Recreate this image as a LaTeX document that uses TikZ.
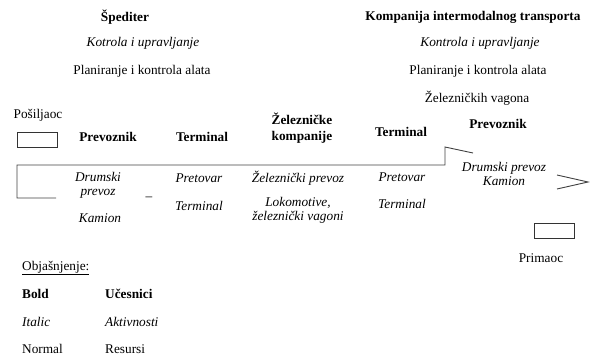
\documentclass[tikz,border=0pt]{standalone}
\usepackage{fontspec}
\setmainfont{Liberation Serif}
\begin{document}
\begin{tikzpicture}[x=1pt,y=-1pt,
  every node/.style={inner sep=0pt,font=\fontsize{13.3}{14}\selectfont},
  bt/.style={font=\fontsize{13.3}{14}\selectfont\bfseries},
  it/.style={font=\fontsize{13.3}{14}\selectfont\itshape},
  ml/.style={align=center},
  ln/.style={draw=black!75,line width=0.9pt},
  bx/.style={draw=black!80,line width=0.9pt}]
\useasboundingbox (0,0) rectangle (590,358);
% top headers
\node[bt] (sped) at (125,17) {Špediter};
\node[it] (sk) at (143,43) {Kotrola i upravljanje};
\node (sp) at (142,71) {Planiranje i kontrola alata};
\node[bt] (kit) at (473,17) {Kompanija intermodalnog transporta};
\node[it] (kk) at (480,43) {Kontrola i upravljanje};
\node (kp) at (478,71) {Planiranje i kontrola alata};
\node (kz) at (477,98) {Železničkih vagona};
% participants
\node (pos) at (38,115) {Pošiljaoc};
\node[bx,minimum width=40pt,minimum height=15pt] (posbox) at (37,140) {};
\node[bt] (prev1) at (108,137) {Prevoznik};
\node[bt] (term1) at (202,137) {Terminal};
\node[bt,ml] (zk) at (302,128) {Železničke\\[2pt]kompanije};
\node[bt] (term2) at (401,132) {Terminal};
\node[bt] (prev2) at (498,124) {Prevoznik};
% activities
\node[it,ml] (dp1) at (98,185) {Drumski\\prevoz};
\node[it] (kam1) at (100,218) {Kamion};
\node (dash) at (149,199) {–};
\node[it] (pret1) at (199,178) {Pretovar};
\node[it] (tr1) at (199,206) {Terminal};
\node[it] (zp) at (298,178) {Železnički prevoz};
\node[it,ml] (lok) at (298,210) {Lokomotive,\\železnički vagoni};
\node[it] (pret2) at (402,177) {Pretovar};
\node[it] (tr2) at (402,204) {Terminal};
\node[it,ml] (dp2) at (504,174) {Drumski prevoz\\Kamion};
% receiver
\node[bx,minimum width=40pt,minimum height=15pt] (prbox) at (554,231) {};
\node (prim) at (541,258) {Primaoc};
% broken arrow shape
\coordinate (a1) at (56,198);
\coordinate (a2) at (17,198);
\coordinate (a3) at (17,165);
\coordinate (a4) at (445,165);
\coordinate (a5) at (445,147);
\coordinate (a6) at (473,153);
\coordinate (h1) at (557,175);
\coordinate (h2) at (588,182);
\coordinate (h3) at (557,189);
\draw[ln] (a1) -- (a2) -- (a3) -- (a4) -- (a5) -- (a6);
\draw[ln] (h1) -- (h2) -- (h3);
% legend
\node[anchor=west] (obj) at (22,268) {\underline{Objašnjenje:}};
\node[bt,anchor=west] (lb) at (22,294) {Bold};
\node[bt,anchor=west] (lu) at (105,294) {Učesnici};
\node[it,anchor=west] (li) at (22,322) {Italic};
\node[it,anchor=west] (la) at (105,322) {Aktivnosti};
\node[anchor=west] (ln) at (22,349) {Normal};
\node[anchor=west] (lr) at (105,349) {Resursi};
\end{tikzpicture}
\end{document}
